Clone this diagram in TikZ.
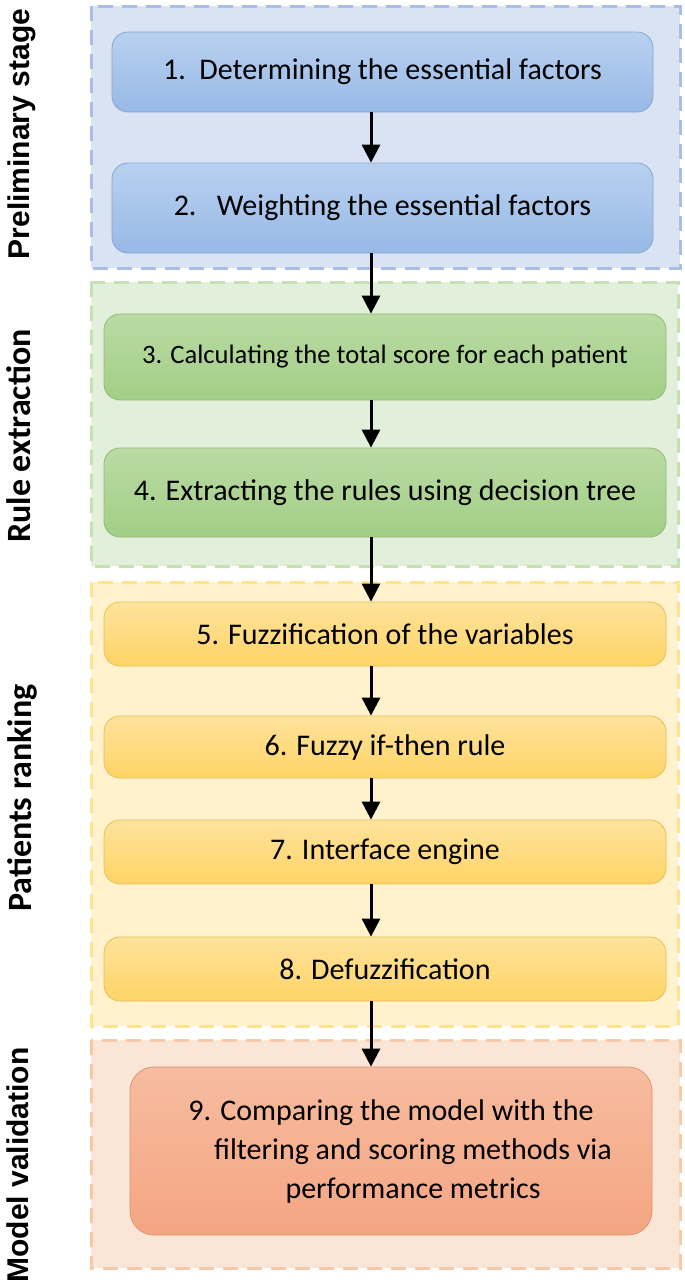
\documentclass[tikz,border=0pt]{standalone}
\usepackage{fontspec}
\setmainfont{Carlito}
\newfontfamily\sidefont{Liberation Sans}
\usetikzlibrary{arrows.meta}

\definecolor{bluegrp}{HTML}{DAE3F3}
\definecolor{bluedash}{HTML}{A9BEE6}
\definecolor{bluetop}{HTML}{B9D1F0}
\definecolor{bluebot}{HTML}{97B9E6}
\definecolor{greengrp}{HTML}{E2EFDA}
\definecolor{greendash}{HTML}{C5E0B4}
\definecolor{greentop}{HTML}{BADBA4}
\definecolor{greenbot}{HTML}{A2CE86}
\definecolor{yellowgrp}{HTML}{FFF2CC}
\definecolor{yellowdash}{HTML}{FFE38F}
\definecolor{yellowtop}{HTML}{FFE39C}
\definecolor{yellowbot}{HTML}{FFD466}
\definecolor{redgrp}{HTML}{FBE5D6}
\definecolor{reddash}{HTML}{F7C9AB}
\definecolor{redtop}{HTML}{F7BCA0}
\definecolor{redbot}{HTML}{F4A582}

\begin{document}
\begin{tikzpicture}[x=0.5pt, y=-0.5pt]
\tikzset{every node/.style={font=\fontsize{15}{19.5}\selectfont},
  grp/.style={line width=1.5pt, dash pattern=on 7.5pt off 4.5pt},
  box/.style={rounded corners=8pt, inner sep=0pt, minimum width=281pt, draw=#1bot!90!black, line width=0.4pt, top color=#1top, bottom color=#1bot},
  sidelbl/.style={rotate=90, font=\sidefont\bfseries\fontsize{15}{17}\selectfont},
  arr/.style={line width=1.5pt, -{Triangle[width=9pt,length=9pt]}}}
\useasboundingbox (0,0) rectangle (685,1280);

% Stage frames
\draw[grp, fill=bluegrp, draw=bluedash] (91,6) rectangle (680,268);
\draw[grp, fill=greengrp, draw=greendash] (91,282) rectangle (678,566);
\draw[grp, fill=yellowgrp, draw=yellowdash] (91,582) rectangle (678,1026);
\draw[grp, fill=redgrp, draw=reddash] (91,1040) rectangle (680,1268);

% Stage labels
\node[sidelbl] at (22, 134) (lpre) {Preliminary stage};
\node[sidelbl, font=\bfseries\fontsize{17}{19}\selectfont] at (19, 436) (lrule) {Rule extraction};
\node[sidelbl, font=\bfseries\fontsize{17}{19}\selectfont] at (22, 798) (lrank) {Patients ranking};
\node[sidelbl] at (18, 1165) (lval) {Model validation};

% Nodes for steps
\node[box=blue, minimum width=270.5pt, minimum height=40pt] at (382.5, 72) (b1) {1.\ \ Determining the essential factors};
\node[box=blue, minimum width=270.5pt, minimum height=45pt] at (382.5, 208) (b2) {2.\ \ \ Weighting the essential factors};
\node[box=green, minimum height=43pt, font=\fontsize{13.3}{16}\selectfont] at (385, 357) (b3) {3. Calculating the total score for each patient};
\node[box=green, minimum height=44.5pt] at (385, 492.5) (b4) {4. Extracting the rules using decision tree};
\node[box=yellow, minimum height=32pt] at (385, 634) (b5) {5. Fuzzification of the variables};
\node[box=yellow, minimum height=31pt] at (385, 747) (b6) {6. Fuzzy if-then rule};
\node[box=yellow, minimum height=32pt] at (385, 852) (b7) {7. Interface engine};
\node[box=yellow, minimum height=32pt] at (385, 969) (b8) {8. Defuzzification};
\node[box=red, rounded corners=12pt, minimum width=261pt, minimum height=84pt, align=center] at (391, 1151) (b9)
  {9. Comparing the model with the\\\hspace*{22pt}filtering and scoring methods via\\\hspace*{22pt}performance metrics};

% Arrows between steps
\coordinate (ax) at (371, 0);
\draw[arr] (b1.south -| ax) -- (b2.north -| ax);
\draw[arr] (b2.south -| ax) -- (b3.north -| ax);
\draw[arr] (b3.south -| ax) -- (b4.north -| ax);
\draw[arr] (b4.south -| ax) -- (b5.north -| ax);
\draw[arr] (b5.south -| ax) -- (b6.north -| ax);
\draw[arr] (b6.south -| ax) -- (b7.north -| ax);
\draw[arr] (b7.south -| ax) -- (b8.north -| ax);
\draw[arr] (b8.south -| ax) -- (b9.north -| ax);
\end{tikzpicture}
\end{document}
